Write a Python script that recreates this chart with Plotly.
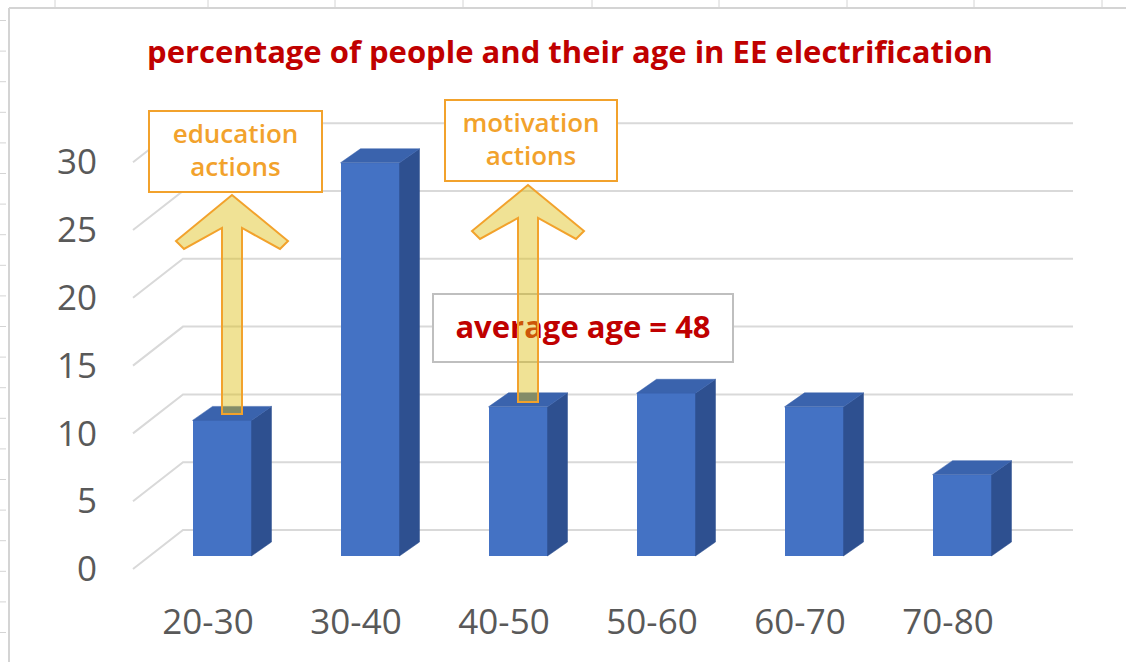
import plotly.graph_objects as go

# ---------------- data ----------------
categories = ["20-30", "30-40", "40-50", "50-60", "60-70", "70-80"]
values = [10, 29, 11, 12, 11, 6]
y_ticks = [0, 5, 10, 15, 20, 25, 30]
title_text = "percentage of people and their age in EE electrification"
note_education = "education<br>actions"
note_motivation = "motivation<br>actions"
note_average = "average age = 48"

# ---------------- geometry (pixels of the 1126x662 page) ----------------
W, H = 1126, 662
ML, MR, MT, MB = 104, 0, 0, 72
PXX = 148.0      # pixels per category step
PXY = 13.56      # pixels per value unit
X0_PX = 222      # pixel x of the first bar's front centre
BASE_PX = 556    # pixel y of value 0 at the bar front

plot_w = W - ML - MR
plot_h = H - MT - MB
xmin = -(X0_PX - ML) / PXX
xmax = xmin + plot_w / PXX
ymin = -(MT + plot_h - BASE_PX) / PXY
ymax = ymin + plot_h / PXY


def paper_x(px):
    return (px - ML) / plot_w


def paper_y(py):
    return (MT + plot_h - py) / plot_h


BW = 59 / PXX                 # bar width
DX = 20 / PXX                 # 3D depth of bars
DY = 14 / PXY
BACK_DY = (BASE_PX - 530) / PXY   # back wall offset
FRONT_DY = (BASE_PX - 569) / PXY  # floor front offset
WALL_X0 = (183 - X0_PX) / PXX
WALL_X1 = (1073 - X0_PX) / PXX
FLOOR_X0 = (133 - X0_PX) / PXX
LABEL_DY = -0.95
XLABEL_DX = -14 / PXX

FRONT = "#4472C4"
TOP = "#3A63AD"
SIDE = "#2E5090"
GRID = "#D9D9D9"
ORANGE = "#F2A22C"
DARKRED = "#C00000"
TICKCOL = "#595959"

fig = go.Figure()
shapes = []

# back wall gridlines + floor diagonals (below the bars)
for v in y_ticks:
    shapes.append(dict(type="path", xref="x", yref="y", layer="below",
                       path=f"M {FLOOR_X0},{v + FRONT_DY} L {WALL_X0},{v + BACK_DY} L {WALL_X1},{v + BACK_DY}",
                       line=dict(color=GRID, width=2)))

xs = list(range(len(categories)))

# front faces
fig.add_trace(go.Bar(x=xs, y=values, width=BW, marker=dict(color=FRONT, line=dict(width=0)),
                     hoverinfo="skip", showlegend=False))

# side faces
sx, sy = [], []
for i, v in zip(xs, values):
    r = i + BW / 2
    sx += [r, r + DX, r + DX, r, r, None]
    sy += [0, DY, v + DY, v, 0, None]
fig.add_trace(go.Scatter(x=sx, y=sy, mode="lines", fill="toself", fillcolor=SIDE,
                         line=dict(color=SIDE, width=0.5), hoverinfo="skip", showlegend=False))

# top faces
tx, ty = [], []
for i, v in zip(xs, values):
    l, r = i - BW / 2, i + BW / 2
    tx += [l, r, r + DX, l + DX, l, None]
    ty += [v, v, v + DY, v + DY, v, None]
fig.add_trace(go.Scatter(x=tx, y=ty, mode="lines", fill="toself", fillcolor=TOP,
                         line=dict(color=TOP, width=0.5), hoverinfo="skip", showlegend=False))

# ---------------- decorations ----------------
LINE = "#D4D4D4"
# spreadsheet frame
shapes.append(dict(type="line", xref="paper", yref="paper", x0=paper_x(9), x1=paper_x(9),
                   y0=paper_y(8), y1=paper_y(662), line=dict(color=LINE, width=2), layer="below"))
shapes.append(dict(type="line", xref="paper", yref="paper", x0=paper_x(9), x1=paper_x(1126),
                   y0=paper_y(8), y1=paper_y(8), line=dict(color=LINE, width=2), layer="below"))
for k in range(22):
    py = 20.5 + 30.6 * k
    shapes.append(dict(type="line", xref="paper", yref="paper", x0=paper_x(0), x1=paper_x(6),
                       y0=paper_y(py), y1=paper_y(py), line=dict(color=LINE, width=1), layer="below"))
for px in [55, 208, 335, 463, 592, 719, 847, 974, 1102]:
    shapes.append(dict(type="line", xref="paper", yref="paper", x0=paper_x(px), x1=paper_x(px),
                       y0=paper_y(0), y1=paper_y(7), line=dict(color=LINE, width=1), layer="below"))


def box(x0, y0, x1, y1, color, text, tcolor, size, weight):
    return dict(type="rect", xref="paper", yref="paper",
                x0=paper_x(x0), x1=paper_x(x1), y0=paper_y(y1), y1=paper_y(y0),
                line=dict(color=color, width=2), fillcolor="white", layer="above",
                label=dict(text=text, textposition="middle center",
                           font=dict(family="Open Sans", size=size, color=tcolor, weight=weight)))


shapes.append(box(149, 111, 322, 192, ORANGE, note_education, ORANGE, 26, 600))
shapes.append(box(445, 100, 617, 181, ORANGE, note_motivation, ORANGE, 26, 600))
shapes.append(box(433, 294, 733, 362, "#BFBFBF", note_average, DARKRED, 31, 700))


def arrow(tip_x, tip_y, bottom_y):
    pts = [(0, 0), (-56, 46), (-48, 54), (-10, 33), (-10, bottom_y - tip_y),
           (10, bottom_y - tip_y), (10, 33), (48, 54), (56, 46)]
    path = "M " + " L ".join(f"{paper_x(tip_x + dx):.5f},{paper_y(tip_y + dy):.5f}" for dx, dy in pts) + " Z"
    return dict(type="path", xref="paper", yref="paper", path=path,
                fillcolor="rgba(222,190,20,0.45)", line=dict(color=ORANGE, width=2), layer="above")


shapes.append(arrow(232, 195, 414))
shapes.append(arrow(528, 185, 402))

fig.update_layout(
    width=W, height=H, autosize=False,
    margin=dict(l=ML, r=MR, t=MT, b=MB, pad=0),
    paper_bgcolor="white", plot_bgcolor="white",
    showlegend=False, bargap=0,
    title=dict(text=title_text, x=570 / W, xanchor="center", y=1 - 52 / H, yanchor="middle",
               xref="container", yref="container",
               font=dict(family="Open Sans", size=31, color=DARKRED, weight=700)),
    xaxis=dict(range=[xmin, xmax], showgrid=False, zeroline=False, showline=False,
               tickmode="array", tickvals=[i + XLABEL_DX for i in xs], ticktext=categories,
               ticks="", ticklabelstandoff=8,
               tickfont=dict(family="Open Sans", size=35, color=TICKCOL), fixedrange=True),
    yaxis=dict(range=[ymin, ymax], showgrid=False, zeroline=False, showline=False,
               tickmode="array", tickvals=[v + LABEL_DY for v in y_ticks],
               ticktext=[str(v) for v in y_ticks], ticks="", ticklabelstandoff=6,
               tickfont=dict(family="Open Sans", size=35, color=TICKCOL), fixedrange=True),
    shapes=shapes,
)

fig.write_html("out.html")
